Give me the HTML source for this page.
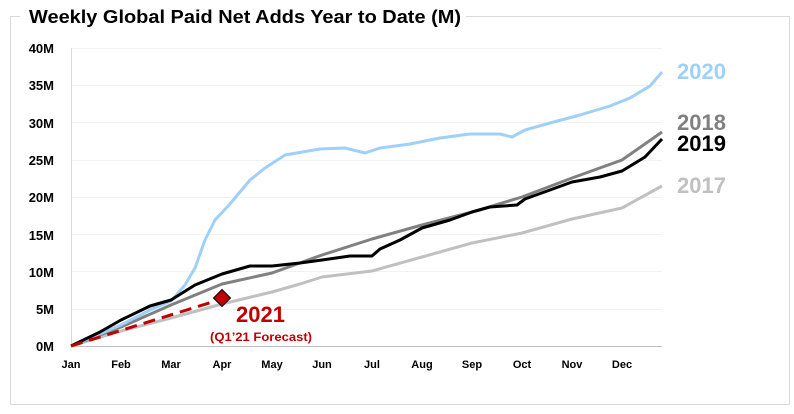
<!DOCTYPE html>
<html><head><meta charset="utf-8"><style>
body{margin:0;background:#fff;width:794px;height:409px;overflow:hidden}
svg text{font-family:"Liberation Sans",sans-serif;font-weight:bold}
</style></head><body>
<svg width="794" height="409" xmlns="http://www.w3.org/2000/svg">
<rect x="10.5" y="16.5" width="779" height="388" fill="none" stroke="#d9d9d9" stroke-width="1"/>
<rect x="20" y="5" width="446" height="22" fill="#fff"/>
<text x="29" y="23" font-size="18.5" fill="#000" textLength="432" lengthAdjust="spacingAndGlyphs">Weekly Global Paid Net Adds Year to Date (M)</text>
<g stroke="#f2f2f2" stroke-width="1">
<line x1="71" x2="662" y1="48.5" y2="48.5"/><line x1="71" x2="662" y1="85.5" y2="85.5"/>
<line x1="71" x2="662" y1="122.5" y2="122.5"/><line x1="71" x2="662" y1="160.5" y2="160.5"/>
<line x1="71" x2="662" y1="197.5" y2="197.5"/><line x1="71" x2="662" y1="234.5" y2="234.5"/>
<line x1="71" x2="662" y1="271.5" y2="271.5"/><line x1="71" x2="662" y1="309.5" y2="309.5"/>
</g>
<line x1="71.5" y1="48" x2="71.5" y2="346" stroke="#d9d9d9"/>
<line x1="71" y1="346.5" x2="662" y2="346.5" stroke="#bfbfbf"/>
<g font-size="13" text-anchor="end" fill="#000">
<text x="54" y="53">40M</text><text x="54" y="90">35M</text><text x="54" y="128">30M</text>
<text x="54" y="165">25M</text><text x="54" y="202">20M</text><text x="54" y="240">15M</text>
<text x="54" y="277">10M</text><text x="54" y="314">5M</text><text x="54" y="351">0M</text>
</g>
<g font-size="11" text-anchor="middle" fill="#000">
<text x="71" y="368">Jan</text><text x="121" y="368">Feb</text><text x="171" y="368">Mar</text>
<text x="222" y="368">Apr</text><text x="272" y="368">May</text><text x="322" y="368">Jun</text>
<text x="372" y="368">Jul</text><text x="422" y="368">Aug</text><text x="472" y="368">Sep</text>
<text x="522" y="368">Oct</text><text x="572" y="368">Nov</text><text x="622" y="368">Dec</text>
</g>
<g fill="none" stroke-width="3" stroke-linejoin="round">
<polyline stroke="#c0c0c0" points="71,346 121,331 171,318 222,304 272,292 300,284 322,277 372,271 422,257 472,243 522,233 572,219 622,208 662,186"/>
<polyline stroke="#808080" points="71,346 121,327 171,305 222,284 272,273 322,255 372,239 422,225 472,212 522,197 572,178 622,160 662,132"/>
<polyline stroke="#9fd0fa" points="71,346 121,325 150,310 171,301 185,285 195,268 205,240 215,220 229,205 250,180 265,168 285,155 320,149 345,148 365,153 380,148 410,144 440,138 470,134 500,134 512,137 525,130 550,123 580,115 610,106 630,98 650,86 662,72"/>
<polyline stroke="#000" points="71,346 100,332 121,320 150,306 171,300 195,285 222,274 250,266 272,266 300,263 322,260 350,256 372,256 380,249 400,240 422,228 450,220 472,212 490,207 517,205 525,199 550,190 572,182 600,177 622,171 645,157 662,139"/>
<line x1="71" y1="346" x2="222" y2="299" stroke="#c00000" stroke-dasharray="12,7"/>
</g>
<rect x="216" y="292" width="12" height="12" fill="#c00000" stroke="#000" stroke-width="1" transform="rotate(45 222 298)"/>
<text x="236" y="322" font-size="22" fill="#c00000">2021</text>
<text x="210" y="341" font-size="12" fill="#c00000" textLength="102" lengthAdjust="spacingAndGlyphs">(Q1’21 Forecast)</text>
<g font-size="22">
<text x="677" y="79" fill="#9fd0fa">2020</text>
<text x="677" y="130" fill="#808080">2018</text>
<text x="677" y="151" fill="#000">2019</text>
<text x="677" y="193" fill="#c0c0c0">2017</text>
</g>
</svg>
</body></html>
